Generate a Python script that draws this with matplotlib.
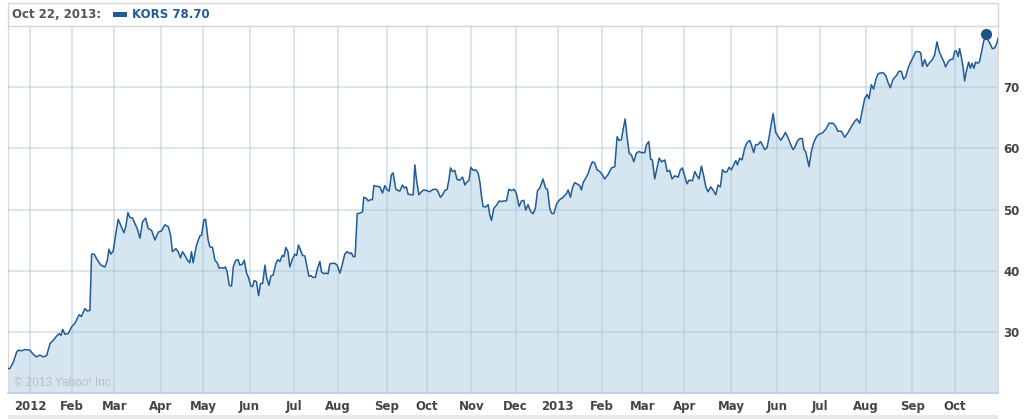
import matplotlib
matplotlib.use('Agg')
import matplotlib.pyplot as plt
from matplotlib.patches import Rectangle

# KORS closing prices, x = trading days since the IPO (Dec 15, 2011)
days = [
    0.6, 1.5, 3.1, 4.7, 5.5, 7.0, 8.6, 11.0, 12.6, 14.1, 15.7, 17.3, 18.9, 20.5, 22.0, 23.6,
    24.9, 25.7, 26.5, 27.6, 29.1, 30.7, 32.3, 34.3, 35.4, 37.0, 38.1, 39.4, 40.2, 41.4, 43.0,
    44.6, 46.5, 47.6, 48.4, 49.3, 50.4, 51.7, 52.8, 53.9, 55.5, 56.4, 57.4, 58.3, 59.6, 60.7,
    61.8, 63.1, 64.3, 65.8, 67.0, 68.6, 70.2, 71.8, 73.3, 74.9, 76.5, 77.6, 78.5, 80.1, 81.2,
    82.3, 83.3, 84.4, 85.6, 86.7, 87.5, 88.3, 89.9, 91.5, 92.3, 93.4, 94.2, 95.4,
    96.2, 97.5, 98.6, 99.7, 100.6, 101.7, 102.8, 103.6, 104.4, 105.4, 106.5, 107.3, 108.5,
    109.6, 110.4, 111.7, 112.5, 113.6, 114.7, 115.6, 116.4, 117.2, 118.3, 119.3, 120.2, 121.2,
    122.3, 123.0, 124.2, 125.1, 126.2, 127.5, 128.4, 129.4, 130.5, 131.3, 132.2, 133.2, 134.1,
    135.2, 136.5, 137.3, 138.2, 139.1, 140.1, 141.2, 142.0, 143.1, 144.0, 145.1, 146.2, 147.2,
    148.3, 149.1, 150.2, 151.1, 152.2, 153.0, 154.3, 155.4, 156.5, 157.8, 159.0, 160.1, 161.2,
    162.5, 163.3, 164.1, 165.0, 166.0, 167.2, 168.5, 169.1, 170.4, 171.2, 172.3, 173.2, 173.9,
    175.1, 176.7, 178.0, 179.1, 180.2, 181.1, 182.2, 183.0, 184.3, 185.4, 186.2,
    187.4, 188.4, 189.3, 190.1, 191.7, 192.5, 193.3, 194.1, 195.2, 196.4, 197.5, 198.8, 200.4,
    202.0, 203.5, 204.3, 205.4, 206.4, 207.5, 208.6, 209.4, 210.2, 211.1, 212.2, 213.3, 214.6,
    215.9, 217.0, 217.7, 218.9, 219.8, 220.9, 222.2, 223.3, 224.1, 224.9, 225.6, 226.9, 228.0,
    228.8, 229.6, 230.7, 232.0, 233.2, 234.3, 235.4, 236.7, 237.8, 239.1, 240.3, 241.4, 242.7,
    243.8, 244.9, 245.8, 246.9, 248.1, 249.3, 250.4, 251.4, 252.5, 254.0, 255.2, 256.1, 257.2,
    258.0, 259.1, 260.4, 261.9, 263.5, 265.1, 265.9, 267.0, 267.9, 269.0, 270.1, 271.4, 272.2,
    273.0, 274.2, 275.4, 276.5, 277.4, 278.5, 279.6,
    280.9, 282.1, 283.2, 284.8, 286.4, 288.0, 289.1, 290.0, 291.1, 291.9, 292.9, 293.8, 294.8,
    295.9, 297.0, 298.2, 299.5, 300.6, 302.2, 303.0, 304.1, 305.0, 305.8, 306.9, 308.0, 309.0,
    310.1, 311.7, 312.8, 314.0, 315.1, 316.4, 318.0, 319.1, 320.0, 321.1, 322.2, 323.2, 324.8,
    325.9, 327.0, 327.9, 329.0, 330.1, 331.1, 332.2, 333.4, 334.5, 335.8, 336.9, 338.0, 339.0,
    340.1, 341.2, 342.1, 343.2, 344.3, 345.3, 346.1, 347.2, 348.3, 349.5, 350.6, 351.9, 352.7,
    353.8, 354.7, 355.8, 357.0, 357.9, 359.0, 360.1, 361.1, 361.9, 363.0, 364.2, 365.3, 366.6,
    367.7, 368.8, 370.1, 371.2, 372.4, 373.2, 374.3, 375.6, 376.8, 377.6, 378.4,
    380.0, 381.1, 382.2, 383.5, 384.7, 386.3, 387.9, 389.5, 391.4, 392.6, 393.7, 395.3, 396.9,
    398.5, 400.0, 401.6, 402.7, 404.0, 405.1, 406.4, 407.6, 408.4, 409.5, 410.6, 411.6, 412.7,
    413.8, 415.0, 416.3, 417.4, 418.5, 419.8, 421.4, 422.6, 423.7, 424.8, 425.8, 426.9, 428.1,
    429.2, 430.5, 432.1, 432.9, 433.7, 434.8, 435.9, 437.1, 438.4, 439.5, 440.6, 441.6, 442.7,
    443.8, 444.7, 445.8, 446.9, 448.2, 449.0, 449.8, 450.6, 451.3, 452.1, 452.9, 453.7, 454.5,
    455.6, 456.4, 457.2, 458.1, 458.9, 460.0, 460.8, 461.6, 462.7, 464.0, 464.8, 465.9, 466.8,
    467.9, 469.0, 469.5,
]
prices = [
    24.0, 24.0, 25.0, 26.7, 27.0, 26.9, 27.1, 27.0, 26.3, 25.9, 26.2, 25.9, 26.1, 28.1, 28.6, 29.3,
    29.7, 29.4, 30.4, 29.6, 29.7, 30.8, 31.4, 32.8, 32.5, 33.8, 33.4, 33.5, 42.7, 42.7, 41.7,
    40.9, 40.6, 41.6, 43.5, 42.7, 43.2, 46.1, 48.4, 47.5, 46.2, 47.2, 49.5, 48.7, 48.6, 47.7,
    46.9, 45.3, 48.0, 48.6, 46.9, 46.6, 45.0, 46.3, 46.5, 47.5, 47.2, 45.8, 43.1, 43.6, 43.1,
    42.1, 43.1, 42.5, 41.7, 41.3, 43.1, 41.3, 44.2, 45.7, 45.8, 48.3, 48.4, 45.0,
    43.9, 43.8, 41.7, 41.3, 40.4, 40.5, 40.4, 40.6, 39.8, 37.6, 37.5, 40.6, 41.7,
    41.8, 40.9, 41.1, 41.7, 39.6, 38.7, 37.5, 37.4, 38.4, 38.2, 35.9, 37.9, 37.9,
    40.9, 39.0, 37.6, 39.1, 39.3, 41.2, 41.8, 41.5, 42.5, 42.3, 43.8, 43.1, 40.6,
    41.8, 42.7, 42.5, 44.2, 43.4, 42.5, 42.4, 41.0, 39.1, 39.2, 38.9, 38.9, 40.4,
    41.5, 39.8, 39.5, 39.6, 39.5, 41.1, 41.2, 41.2, 40.9, 39.6, 41.1, 42.7, 43.1,
    42.8, 42.9, 42.3, 42.3, 49.3, 49.4, 49.6, 52.0, 51.8, 51.4, 51.6, 51.6, 53.9,
    53.8, 53.7, 52.7, 53.9, 53.2, 53.0, 55.7, 56.0, 53.3, 53.1, 53.0,
    54.0, 53.5, 53.7, 52.5, 52.4, 52.4, 57.3, 54.8, 52.4, 52.9, 53.2, 53.1, 52.9,
    53.3, 53.3, 52.9, 52.0, 52.4, 53.1, 53.3, 54.8, 56.8, 56.2, 56.4, 54.9, 54.8,
    55.3, 54.0, 54.4, 54.7, 56.9, 56.4, 56.5, 55.9, 54.5, 52.1, 50.5, 50.4, 50.8,
    49.1, 48.2, 50.2, 50.7, 51.4, 51.3, 51.4, 51.4, 53.3, 53.1, 53.3, 52.6, 50.5,
    51.4, 51.5, 49.9, 50.8, 49.7, 49.3, 50.2, 53.1, 53.5, 55.0, 53.5, 53.3, 50.2,
    49.4, 49.3, 50.9, 51.6, 52.0, 52.6, 53.2, 52.0, 53.5, 54.4, 54.2, 53.9, 53.2,
    54.4, 55.1, 55.9, 57.1, 57.8, 57.6, 56.5,
    56.2, 55.7, 55.0, 55.7, 56.8, 57.0, 61.9, 61.3, 61.4, 63.0, 64.8, 61.9, 59.2,
    58.9, 57.8, 59.2, 59.5, 59.3, 59.3, 60.6, 61.1, 58.2, 58.1, 55.0, 56.8, 58.4,
    57.8, 58.1, 56.2, 56.4, 55.0, 55.5, 55.3, 56.5, 56.8, 55.5, 54.2, 54.8, 54.7,
    56.2, 55.5, 55.0, 57.1, 55.5, 53.7, 52.9, 53.7, 53.2, 52.4, 54.0, 53.7, 56.5,
    56.1, 56.2, 56.9, 56.5, 57.3, 58.0, 57.3, 58.4, 58.1, 60.0, 60.9, 61.3, 60.6,
    59.3, 60.6, 60.6, 61.1, 60.6, 59.8, 60.1, 61.9, 63.6, 65.7, 62.6, 62.0, 61.3,
    61.9, 62.6, 61.7, 60.7, 59.8, 60.1, 61.1, 61.6, 61.6, 59.8, 59.5,
    57.0, 59.5, 60.9, 61.9, 62.3, 62.5, 63.1, 64.1, 64.1, 63.6, 62.8, 62.8, 61.8,
    62.6, 63.5, 64.4, 64.8, 64.1, 66.0, 68.2, 68.8, 68.1, 70.4, 69.7, 71.2, 72.2,
    72.3, 72.4, 71.9, 70.8, 69.9, 71.3, 71.9, 72.6, 72.6, 71.3, 71.7, 73.1, 74.1,
    74.8, 75.8, 75.8, 75.6, 73.4, 74.5, 73.4, 74.0, 74.5, 75.3, 77.4, 75.9, 75.0,
    74.2, 73.3, 74.1, 74.5, 74.6, 75.9, 75.9, 75.0, 76.3, 75.0, 73.4, 71.0, 72.6,
    74.1, 73.1, 73.9, 73.1, 74.1, 73.9, 74.2, 75.6, 77.5, 78.7, 77.7, 77.0, 76.3,
    76.4, 77.2, 78.0,
]

# first trading day of each month (same day count)
month_starts = [11, 31, 51, 73, 93, 115, 136, 157, 180, 199, 220, 241,
                261, 282, 301, 321, 343, 365, 385, 407, 429, 449]
month_labels = ['2012', 'Feb', 'Mar', 'Apr', 'May', 'Jun', 'Jul', 'Aug', 'Sep', 'Oct', 'Nov', 'Dec',
                '2013', 'Feb', 'Mar', 'Apr', 'May', 'Jun', 'Jul', 'Aug', 'Sep', 'Oct']
price_ticks = [30, 40, 50, 60, 70]

hover_day = 464
hover_price = 78.70
hover_date = 'Oct 22, 2013:'
ticker = 'KORS'

line_color = '#225b94'
fill_color = '#d6e6f1'
W, H = 1024, 419

fig = plt.figure(figsize=(W / 100, H / 100), dpi=100)
ax = fig.add_axes([8 / W, 26 / H, 990 / W, 367 / H])

ax.fill_between(days, prices, 20, color=fill_color, lw=0, zorder=1)
ax.plot(days, prices, color=line_color, lw=1.1, zorder=3)
ax.plot([hover_day], [hover_price], 'o', color='#1b5289', ms=7, zorder=4)

ax.set_xlim(0.6, 469.5)
ax.set_ylim(20, 80)
ax.set_xticks(month_starts)
ax.set_xticklabels(month_labels)
ax.set_yticks(price_ticks)
ax.yaxis.tick_right()
ax.set_axisbelow(False)
ax.grid(True, color='#a9c0d4', alpha=0.45, lw=1.3)
ax.tick_params(axis='both', length=0, labelsize=8.5, labelcolor='#444444')
ax.tick_params(axis='x', pad=5)
ax.tick_params(axis='y', pad=4)
for lbl in ax.get_xticklabels() + ax.get_yticklabels():
    lbl.set_fontweight('bold')

for side in ['left', 'top', 'right']:
    ax.spines[side].set_color('#d9d9d9')
ax.spines['bottom'].set_color('#b9cfe1')
ax.spines['bottom'].set_linewidth(1.2)

ax.text(0.006, 0.028, '\u00a9 2013 Yahoo! Inc.', transform=ax.transAxes, va='center',
        color='#b5bec8', fontsize=8.5, family='Liberation Sans')

# header box with the hovered value
fig.add_artist(Rectangle((8 / W, 1 - 26 / H), 990 / W, 23 / H, transform=fig.transFigure,
                         facecolor='white', edgecolor='#d6d6d6', lw=1))
fig.text(12 / W, 1 - 14.5 / H, hover_date, va='center', ha='left', color='#555555',
         fontsize=8.5, fontweight='bold')
fig.add_artist(Rectangle((113 / W, 1 - 17 / H), 14 / W, 5 / H, transform=fig.transFigure,
                         facecolor=line_color, edgecolor='none'))
fig.text(132 / W, 1 - 14.5 / H, f'{ticker} {hover_price:.2f}', va='center', ha='left',
         color=line_color, fontsize=8.5, fontweight='bold')

# gray strip at the very bottom
fig.add_artist(Rectangle((8 / W, 0), 990 / W, 4 / H, transform=fig.transFigure,
                         facecolor='#e8e8e8', edgecolor='none'))

fig.savefig('out.png', dpi=100)
